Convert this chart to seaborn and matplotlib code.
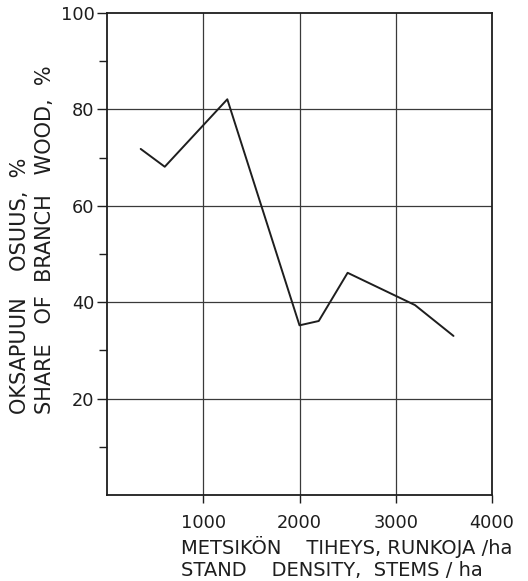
import numpy as np
import pandas as pd
import matplotlib
matplotlib.use("Agg")
import matplotlib.pyplot as plt
import seaborn as sns

# stand density (stems/ha) and share of branch wood (%)
density = [350, 600, 1250, 2000, 2200, 2500, 3200, 3600]
branch_share = [71.8, 68.1, 82.1, 35.2, 36.1, 46.1, 39.4, 33.0]

x_ticks = [1000, 2000, 3000, 4000]
y_ticks = [20, 40, 60, 80, 100]
y_minor = [10, 30, 50, 70, 90]

df = pd.DataFrame({'density': density, 'share': branch_share})

sns.set_style("white")
plt.rcParams['font.family'] = ['DejaVu Sans']

ink = '#1e1e1e'

fig = plt.figure(figsize=(5.28, 5.81), dpi=100)
ax = fig.add_axes([107 / 528, 1 - 495 / 581, (492 - 107) / 528, (495 - 13) / 581])

# grid first, then the curve on top
for gx in x_ticks[:-1]:
    ax.axvline(gx, color='#3a3a3a', lw=0.9, zorder=1)
for gy in y_ticks[:-1]:
    ax.axhline(gy, color='#3a3a3a', lw=0.9, zorder=1)

sns.lineplot(data=df, x='density', y='share', ax=ax, color=ink, lw=1.4,
             zorder=3, legend=False)

ax.set_xlim(0, 4000)
ax.set_ylim(0, 100)
ax.set_xticks(x_ticks)
ax.set_yticks(y_ticks)
ax.set_yticks(y_minor, minor=True)
ax.tick_params(axis='both', which='both', direction='out', width=1.0,
               color=ink, labelcolor=ink, labelsize=12.8)
ax.tick_params(axis='x', bottom=True, length=6, pad=7.5)
ax.tick_params(axis='y', which='major', left=True, length=7.5, pad=1.5)
ax.tick_params(axis='y', which='minor', left=True, length=5.5)
ax.set_xlabel('')
ax.set_ylabel('')
for s in ax.spines.values():
    s.set_color(ink)
    s.set_linewidth(1.3)

# axis titles, drawn as figure text to keep the wide lettering
fig.text(181 / 528, 1 - 547 / 581, 'METSIKÖN    TIHEYS, RUNKOJA /ha',
         fontsize=14, color=ink, ha='left', va='center')
fig.text(181 / 528, 1 - 570 / 581, 'STAND    DENSITY,  STEMS / ha',
         fontsize=14, color=ink, ha='left', va='center')

fig.text(20 / 528, 1 - 414 / 581, 'OKSAPUUN    OSUUS,  %',
         fontsize=15, color=ink, rotation=90, ha='center', va='bottom')
fig.text(45 / 528, 1 - 414 / 581, 'SHARE   OF  BRANCH   WOOD,  %',
         fontsize=15, color=ink, rotation=90, ha='center', va='bottom')

fig.savefig('out.png', dpi=100, facecolor='white')
